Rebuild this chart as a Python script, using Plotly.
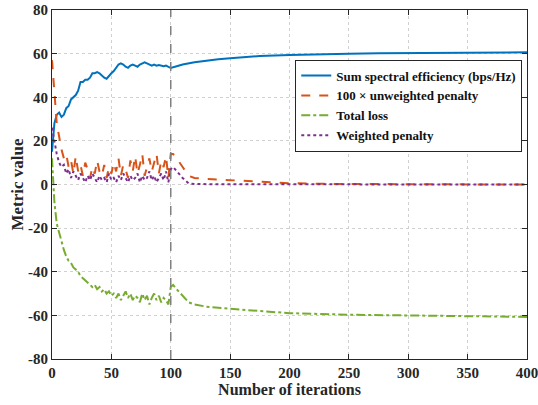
import plotly.graph_objects as go

# Iterations (dense part 0..100 every 2, then sparser smooth tail)
iters_early = list(range(0, 101, 2))
iters_tail_se = [105, 110, 120, 130, 140, 150, 160, 175, 200, 225, 250, 275, 300, 350, 400]
iters_tail_pen = [102, 105, 110, 115, 120, 130, 150, 175, 200, 225, 250, 300, 350, 400]
iters_tail_wp = [102, 105, 110, 115, 120, 150, 200, 400]
iters_tail_loss = [102, 105, 110, 115, 120, 130, 150, 175, 200, 250, 300, 350, 400]

se_early = [15, 28, 32, 33, 31, 32, 35, 36, 39, 40, 41, 43, 47, 47, 48, 48, 49, 51, 51, 51.5,
            51, 50, 49, 48.5, 50, 51, 52, 53.5, 55, 55.5, 55, 54, 53.5, 54.5, 55, 54.5, 54, 55,
            55.5, 56, 55.5, 55, 54.5, 55, 54.5, 54.8, 54.5, 54.2, 54.5, 54, 53.4]
se_tail = [54.2, 55, 56, 56.8, 57.4, 57.9, 58.4, 58.9, 59.4, 59.8, 60.0, 60.2, 60.3, 60.5, 60.6]

pen_early = [57, 40, 28, 22, 16, 12, 14, 8, 11, 5, 13, 6, 9, 4, 10, 7, 3, 8, 5, 11, 6, 4, 9, 3,
             8, 5, 10, 6, 12, 4, 9, 7, 3, 11, 6, 13, 5, 9, 14, 4, 8, 12, 6, 10, 14, 5, 11, 8, 13, 3, 14]
pen_tail = [14, 12, 8, 4, 3, 2.5, 2, 1.2, 0.6, 0.3, 0.2, 0.1, 0.05, 0]

loss_early = [12, -8, -18, -22, -27, -30, -33, -35, -36, -38, -39, -40, -42, -43, -44, -45, -46,
              -47, -46, -48, -47, -49, -48, -50, -49, -51, -50, -52, -50, -53, -51, -49, -52, -50,
              -53, -51, -52, -54, -50, -53, -51, -55, -52, -50, -53, -51, -54, -52, -53, -55, -47]
loss_tail = [-46, -48, -51, -54, -55, -56, -57, -58, -59, -59.7, -60.1, -60.4, -60.7]

wp_early = [26, 20, 14, 10, 8, 9, 5, 7, 3, 6, 4, 2, 5, 3, 1, 4, 2, 5, 3, 1, 4, 2, 3, 1, 5, 2, 3,
            1, 4, 2, 5, 3, 1, 4, 2, 3, 5, 1, 4, 2, 3, 6, 2, 4, 1, 3, 5, 2, 6, 1, 7]
wp_tail = [8, 6, 3, 0.5, 0.2, 0.1, 0.05, 0]

x_ticks = [0, 50, 100, 150, 200, 250, 300, 350, 400]
y_ticks = [-80, -60, -40, -20, 0, 20, 40, 60, 80]
switch_iter = 100

FONT = "Liberation Serif, Times New Roman, serif"

fig = go.Figure()
fig.add_trace(go.Scatter(x=iters_early + iters_tail_se, y=se_early + se_tail, mode="lines",
                         name="<b>Sum spectral efficiency (bps/Hz)</b>",
                         line=dict(color="#0072BD", width=2)))
fig.add_trace(go.Scatter(x=iters_early + iters_tail_pen, y=pen_early + pen_tail, mode="lines",
                         name="<b>100 \u00d7 unweighted penalty</b>",
                         line=dict(color="#D95319", width=2, dash="dash")))
fig.add_trace(go.Scatter(x=iters_early + iters_tail_loss, y=loss_early + loss_tail, mode="lines",
                         name="<b>Total loss</b>",
                         line=dict(color="#77AC30", width=2, dash="dashdot")))
fig.add_trace(go.Scatter(x=iters_early + iters_tail_wp, y=wp_early + wp_tail, mode="lines",
                         name="<b>Weighted penalty</b>",
                         line=dict(color="#7E2F8E", width=2, dash="dot")))

fig.add_shape(type="line", xref="x", yref="paper", x0=switch_iter, x1=switch_iter, y0=0, y1=1,
              line=dict(color="#808080", width=1.5, dash="dash"))

axis_common = dict(showline=True, linecolor="#262626", linewidth=1, mirror="ticks",
                   ticks="inside", ticklen=5, tickcolor="#262626",
                   showgrid=True, gridcolor="#d0d0d0", griddash="dot", gridwidth=1,
                   zeroline=False, automargin=False, ticklabeloverflow="allow",
                   tickfont=dict(family=FONT, size=15, color="#262626"))

fig.update_layout(
    width=538, height=405,
    margin=dict(l=52, r=11, t=10, b=46),
    plot_bgcolor="white", paper_bgcolor="white",
    font=dict(family=FONT, color="#262626"),
    xaxis=dict(range=[0, 400], tickvals=x_ticks, ticktext=[f"<b>{v}</b>" for v in x_ticks],
               title=dict(text="<b>Number of iterations</b>", standoff=2,
                          font=dict(family=FONT, size=16, color="#262626")),
               **axis_common),
    yaxis=dict(range=[-80, 80], tickvals=y_ticks, ticktext=[f"<b>{v}</b>" for v in y_ticks],
               title=dict(text="<b>Metric value</b>", standoff=0,
                          font=dict(family=FONT, size=17, color="#262626")),
               **axis_common),
    legend=dict(x=0.99, xanchor="right", y=0.858, yanchor="top",
                bgcolor="white", bordercolor="#262626", borderwidth=1,
                font=dict(family=FONT, size=13, color="#111111"),
                itemwidth=30, tracegroupgap=0),
    showlegend=True,
)

fig.write_html("out.html", config={"displayModeBar": False},
               post_script="document.body.style.margin='0';document.body.style.padding='0';")
